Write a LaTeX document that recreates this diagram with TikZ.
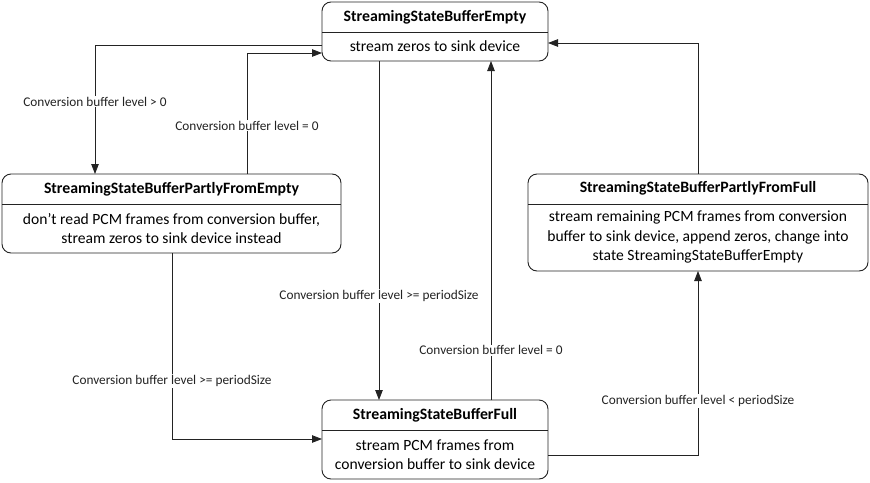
\documentclass[tikz,border=0pt]{standalone}
\usepackage{fontspec}
\setmainfont{Carlito}
\usepackage{tikz}
\usetikzlibrary{arrows.meta,positioning}
\definecolor{statelinegray}{RGB}{35,35,35}

\begin{document}
\begin{tikzpicture}[x=1pt, y=-1pt, >={Triangle[length=10pt,width=7.5pt]},
    statebox/.style={draw=statelinegray, line width=0.9pt, rounded corners=9pt, rectangle, fill=white, outer sep=0pt},
    statetitle/.style={font=\fontsize{15.8}{19}\selectfont\bfseries, inner sep=0pt},
    statetext/.style={font=\fontsize{15.6}{19.5}\selectfont, align=center, inner sep=0pt},
    cond/.style={font=\fontsize{13.3}{15}\selectfont, fill=white, inner sep=1pt},
    trans/.style={->, line width=0.8pt, statelinegray}]
    \useasboundingbox (0,0) rectangle (870,482);

    % States
    \node [statebox, minimum width=226pt, minimum height=59pt] (empty) at (435,31.5) {};
    \node [statebox, minimum width=226pt, minimum height=79pt, below=339pt of empty] (full) {};
    \node [statebox, minimum width=339pt, minimum height=79pt, below left=113pt and -19pt of empty] (pfe) {};
    \node [statebox, minimum width=340pt, minimum height=97pt, below right=113pt and -20pt of empty] (pff) {};

    % Dividers between name and action
    \foreach \s in {empty,full,pfe,pff}
        \draw [statelinegray, line width=0.9pt] ([yshift=-30pt]\s.north west) -- ([yshift=-30pt]\s.north east);

    % State names
    \node [statetitle] (emptytitle) at ([yshift=-15pt]empty.north) {StreamingStateBufferEmpty};
    \node [statetitle] (fulltitle) at ([yshift=-15pt]full.north) {StreamingStateBufferFull};
    \node [statetitle] (pfetitle) at ([yshift=-15pt]pfe.north) {StreamingStateBufferPartlyFromEmpty};
    \node [statetitle] (pfftitle) at ([yshift=-14.5pt]pff.north) {StreamingStateBufferPartlyFromFull};

    % State actions
    \node [statetext] (emptytext) at ([yshift=14.5pt]empty.south) {stream zeros to sink device};
    \node [statetext] (fulltext) at ([yshift=24.5pt]full.south) {stream PCM frames from\\conversion buffer to sink device};
    \node [statetext] (pfetext) at ([yshift=24.5pt]pfe.south) {don{\char"27}t read PCM frames from conversion buffer,\\stream zeros to sink device instead};
    \node [statetext] (pfftext) at ([yshift=34pt]pff.south) {stream remaining PCM frames from conversion\\buffer to sink device, append zeros, change into\\state StreamingStateBufferEmpty};

    % Transitions
    \draw [trans] (empty.west |- 0,45) -| node[cond, pos=0.72] {Conversion buffer level > 0} (pfe.north -| 95,0);
    \draw [trans] (pfe.north -| 247,0) |- node[cond, pos=0.2] {Conversion buffer level = 0} (empty.west |- 0,53);
    \draw [trans] (empty.south -| 379,0) -- node[cond, pos=0.693] {Conversion buffer level >= periodSize} (full.north -| 379,0);
    \draw [trans] (full.north -| 491,0) -- node[cond, pos=0.147] {Conversion buffer level = 0} (empty.south -| 491,0);
    \draw [trans] (pfe.south -| 172,0) |- node[cond, pos=0.344] {Conversion buffer level >= periodSize} (full.west |- 0,439);
    \draw [trans] (full.east |- 0,455) -| node[cond, pos=0.647] {Conversion buffer level < periodSize} (pff.south);
    \draw [trans] (pff.north) |- (empty.east |- 0,43);
\end{tikzpicture}
\end{document}
